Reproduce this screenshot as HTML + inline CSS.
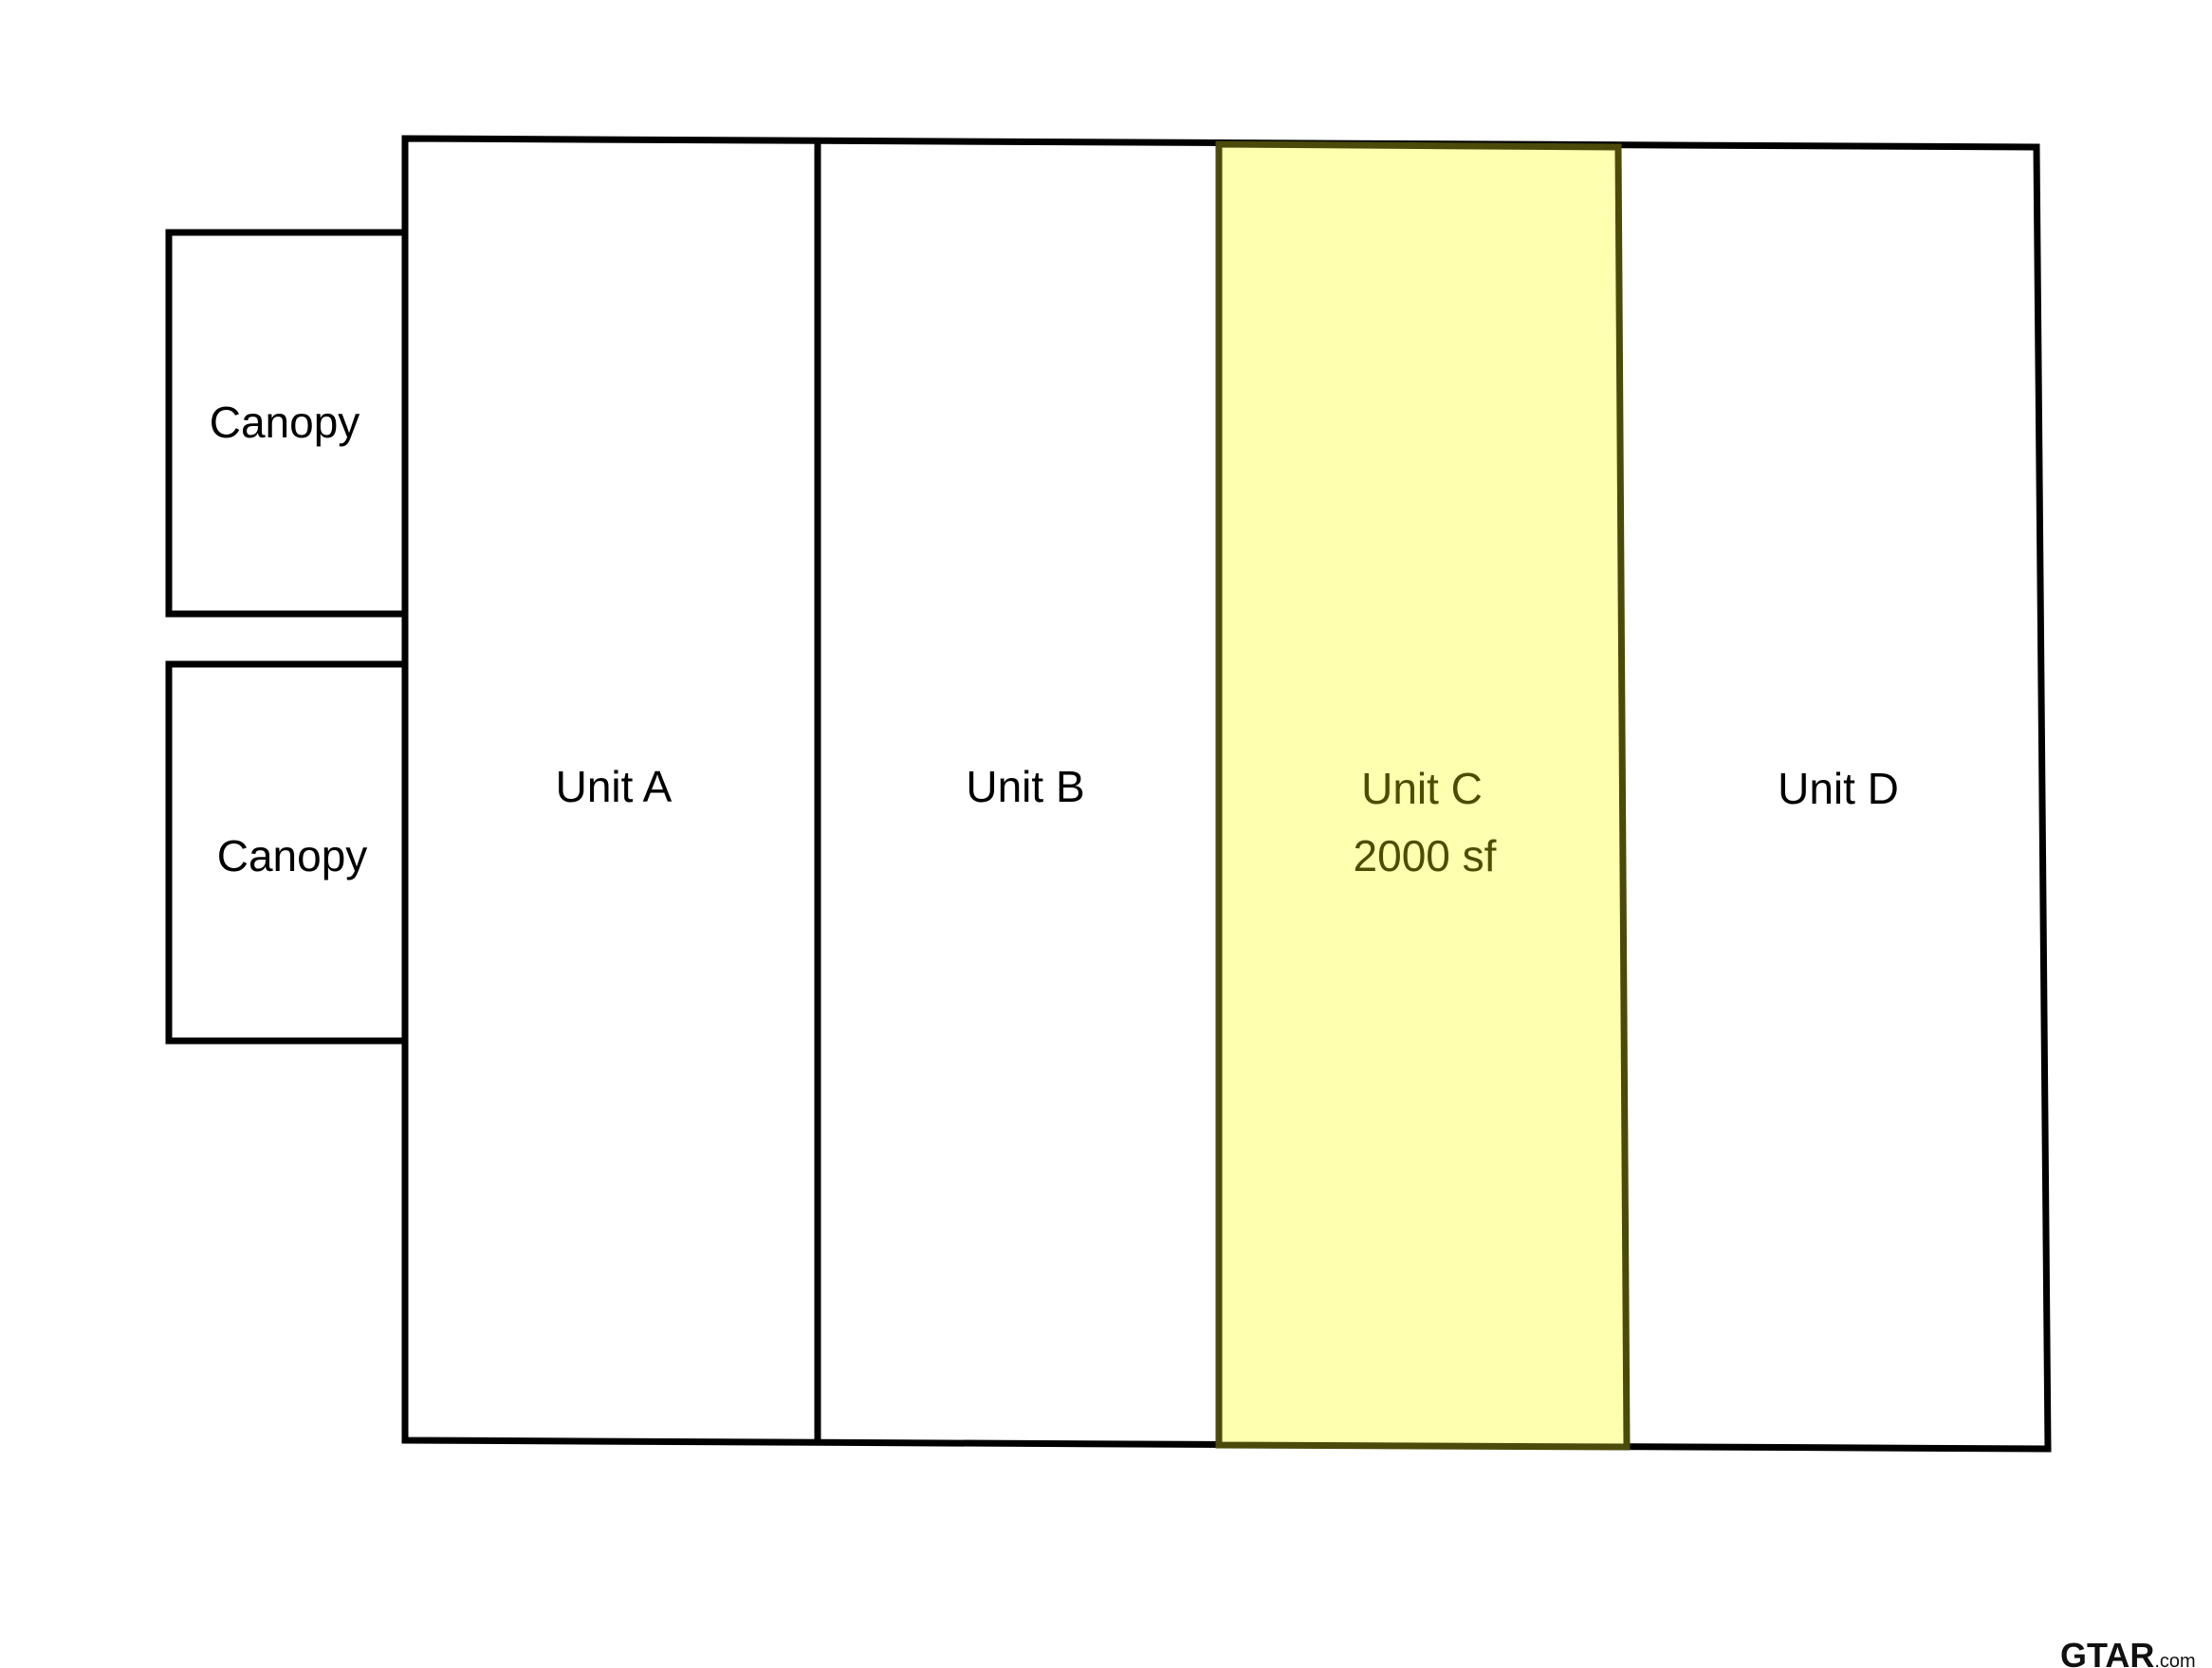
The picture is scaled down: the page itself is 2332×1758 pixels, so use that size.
<!DOCTYPE html>
<html><head><meta charset="utf-8"><style>
html,body{margin:0;padding:0;background:#fff;}
svg{display:block;}
</style></head><body>
<svg width="2332" height="1758" viewBox="0 0 2332 1758" xmlns="http://www.w3.org/2000/svg">
<rect width="2332" height="1758" fill="#fff"/>
<polygon points="178,245 427,245 427,647 178,647" fill="#fff" stroke="#000" stroke-width="7"/>
<polygon points="178,700 427,700 427,1097 178,1097" fill="#fff" stroke="#000" stroke-width="7"/>
<polygon points="427,146 2147,155 2159,1527 427,1518" fill="#fff" stroke="#000" stroke-width="7"/>
<polygon points="1285,152 1706,155 1715,1525 1285,1523" fill="#ffffb0" stroke="#4a4a0a" stroke-width="7"/>
<line x1="862" y1="149" x2="862" y2="1520" stroke="#000" stroke-width="7"/>
<g font-family="Liberation Sans, sans-serif" font-size="46" text-anchor="middle" fill="#000">
<text x="300" y="461">Canopy</text>
<text x="308" y="918">Canopy</text>
<text x="647" y="845">Unit A</text>
<text x="1081" y="845">Unit B</text>
<text x="1499" y="847" fill="#4d4d00">Unit C</text>
<text x="1502" y="918" fill="#4d4d00">2000 sf</text>
<text x="1938" y="847">Unit D</text>
</g>
<text x="2172" y="1757" font-family="Liberation Sans, sans-serif" font-weight="bold" font-size="36" fill="#111">GTAR<tspan font-size="20" font-weight="normal">.com</tspan></text>
</svg>
</body></html>
